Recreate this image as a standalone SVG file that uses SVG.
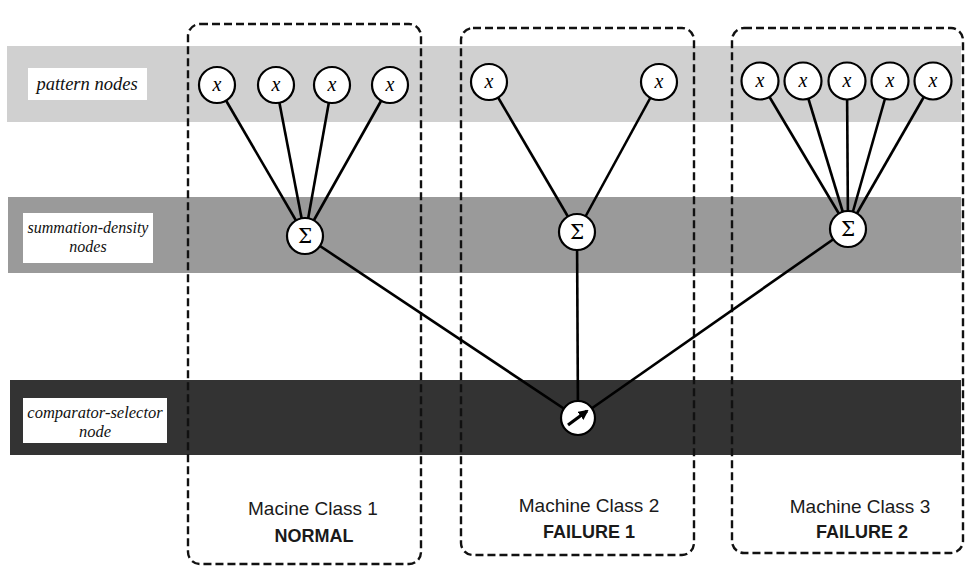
<svg xmlns="http://www.w3.org/2000/svg" width="967" height="567" viewBox="0 0 967 567">
<defs>
<style>
.band1{fill:#d0d0d0}
.band2{fill:#9a9a9a}
.band3{fill:#333333}
.lab{fill:#fff}
.lt{font-family:"Liberation Serif","Times New Roman",serif;font-style:italic;fill:#111;text-anchor:middle}
.cls{fill:none;stroke:#111;stroke-width:2.4;stroke-dasharray:8 4}
.edge{stroke:#000;stroke-width:2.6;fill:none}
.node{fill:#fff;stroke:#000;stroke-width:2.2}
.nx{font-family:"Liberation Serif","Times New Roman",serif;font-style:italic;font-size:20px;text-anchor:middle;fill:#000}
.ns{font-family:"DejaVu Serif","Liberation Serif",serif;font-size:20px;text-anchor:middle;fill:#000}
.ct{font-family:"Liberation Sans",Arial,sans-serif;font-size:19px;text-anchor:middle;fill:#1a1a1a}
.cb{font-family:"Liberation Sans",Arial,sans-serif;font-size:18px;font-weight:bold;text-anchor:middle;fill:#1a1a1a}
</style>
<marker id="ah" viewBox="0 0 10 10" refX="8" refY="5" markerWidth="3.2" markerHeight="3.2" orient="auto">
<path d="M0,0 L10,5 L0,10 z" fill="#000"/>
</marker>
</defs>
<rect width="967" height="567" fill="#fff"/>
<g id="bands">
<rect class="band1" x="7" y="46" width="954" height="76"/>
<rect class="band2" x="8" y="197" width="953" height="76"/>
<rect class="band3" x="10" y="380" width="951" height="75"/>
</g>
<g id="layer-labels">
<rect class="lab" x="28" y="68" width="119" height="32"/>
<text class="lt" x="87" y="90" font-size="18.5">pattern nodes</text>
<rect class="lab" x="23" y="213" width="130" height="50"/>
<text class="lt" x="88" y="233" font-size="16">summation-density</text>
<text class="lt" x="88" y="252" font-size="16">nodes</text>
<rect class="lab" x="23" y="398" width="144" height="45"/>
<text class="lt" x="95" y="418" font-size="16.5">comparator-selector</text>
<text class="lt" x="95" y="437" font-size="16.5">node</text>
</g>
<g id="class-boxes">
<rect id="class1" class="cls" x="188" y="24" width="233" height="540" rx="12"/>
<rect id="class2" class="cls" x="461" y="28" width="233" height="527" rx="12"/>
<rect id="class3" class="cls" x="732" y="28" width="231" height="525" rx="12"/>
</g>
<g id="connectors">
<line class="edge" x1="217" y1="85" x2="305" y2="236"/>
<line class="edge" x1="276" y1="85" x2="305" y2="236"/>
<line class="edge" x1="332" y1="85" x2="305" y2="236"/>
<line class="edge" x1="390" y1="85" x2="305" y2="236"/>
<line class="edge" x1="489" y1="82" x2="577" y2="232"/>
<line class="edge" x1="659" y1="82" x2="577" y2="232"/>
<line class="edge" x1="760" y1="81" x2="848" y2="229"/>
<line class="edge" x1="803" y1="81" x2="848" y2="229"/>
<line class="edge" x1="847" y1="81" x2="848" y2="229"/>
<line class="edge" x1="890" y1="81" x2="848" y2="229"/>
<line class="edge" x1="933" y1="81" x2="848" y2="229"/>
<line class="edge" x1="305" y1="236" x2="578" y2="418"/>
<line class="edge" x1="577" y1="232" x2="578" y2="418"/>
<line class="edge" x1="848" y1="229" x2="578" y2="418"/>
</g>
<g id="pattern-nodes">
<g id="p1"><circle class="node" cx="217" cy="85" r="18"/><text class="nx" x="217" y="91">x</text></g>
<g id="p2"><circle class="node" cx="276" cy="85" r="18"/><text class="nx" x="276" y="91">x</text></g>
<g id="p3"><circle class="node" cx="332" cy="85" r="18"/><text class="nx" x="332" y="91">x</text></g>
<g id="p4"><circle class="node" cx="390" cy="85" r="18"/><text class="nx" x="390" y="91">x</text></g>
<g id="p5"><circle class="node" cx="489" cy="82" r="18"/><text class="nx" x="489" y="88">x</text></g>
<g id="p6"><circle class="node" cx="659" cy="82" r="18"/><text class="nx" x="659" y="88">x</text></g>
<g id="p7"><circle class="node" cx="760" cy="81" r="18.5"/><text class="nx" x="760" y="87">x</text></g>
<g id="p8"><circle class="node" cx="803" cy="81" r="18.5"/><text class="nx" x="803" y="87">x</text></g>
<g id="p9"><circle class="node" cx="847" cy="81" r="18.5"/><text class="nx" x="847" y="87">x</text></g>
<g id="p10"><circle class="node" cx="890" cy="81" r="18.5"/><text class="nx" x="890" y="87">x</text></g>
<g id="p11"><circle class="node" cx="933" cy="81" r="18.5"/><text class="nx" x="933" y="87">x</text></g>
</g>
<g id="sum-nodes">
<g id="s1"><circle class="node" cx="305" cy="236" r="18"/><text class="ns" x="305" y="243">Σ</text></g>
<g id="s2"><circle class="node" cx="577" cy="232" r="18"/><text class="ns" x="577" y="239">Σ</text></g>
<g id="s3"><circle class="node" cx="848" cy="229" r="18"/><text class="ns" x="848" y="236">Σ</text></g>
</g>
<g id="comparator">
<circle class="node" cx="578" cy="418" r="17" stroke="#fff"/>
<line x1="568" y1="425" x2="587" y2="411" stroke="#000" stroke-width="3.2" marker-end="url(#ah)"/>
</g>
<g id="class-labels">
<text class="ct" x="313" y="515">Macine Class 1</text>
<text class="cb" x="314" y="542">NORMAL</text>
<text class="ct" x="589" y="512">Machine Class 2</text>
<text class="cb" x="589" y="538">FAILURE 1</text>
<text class="ct" x="860" y="513">Machine Class 3</text>
<text class="cb" x="862" y="538">FAILURE 2</text>
</g>
</svg>
